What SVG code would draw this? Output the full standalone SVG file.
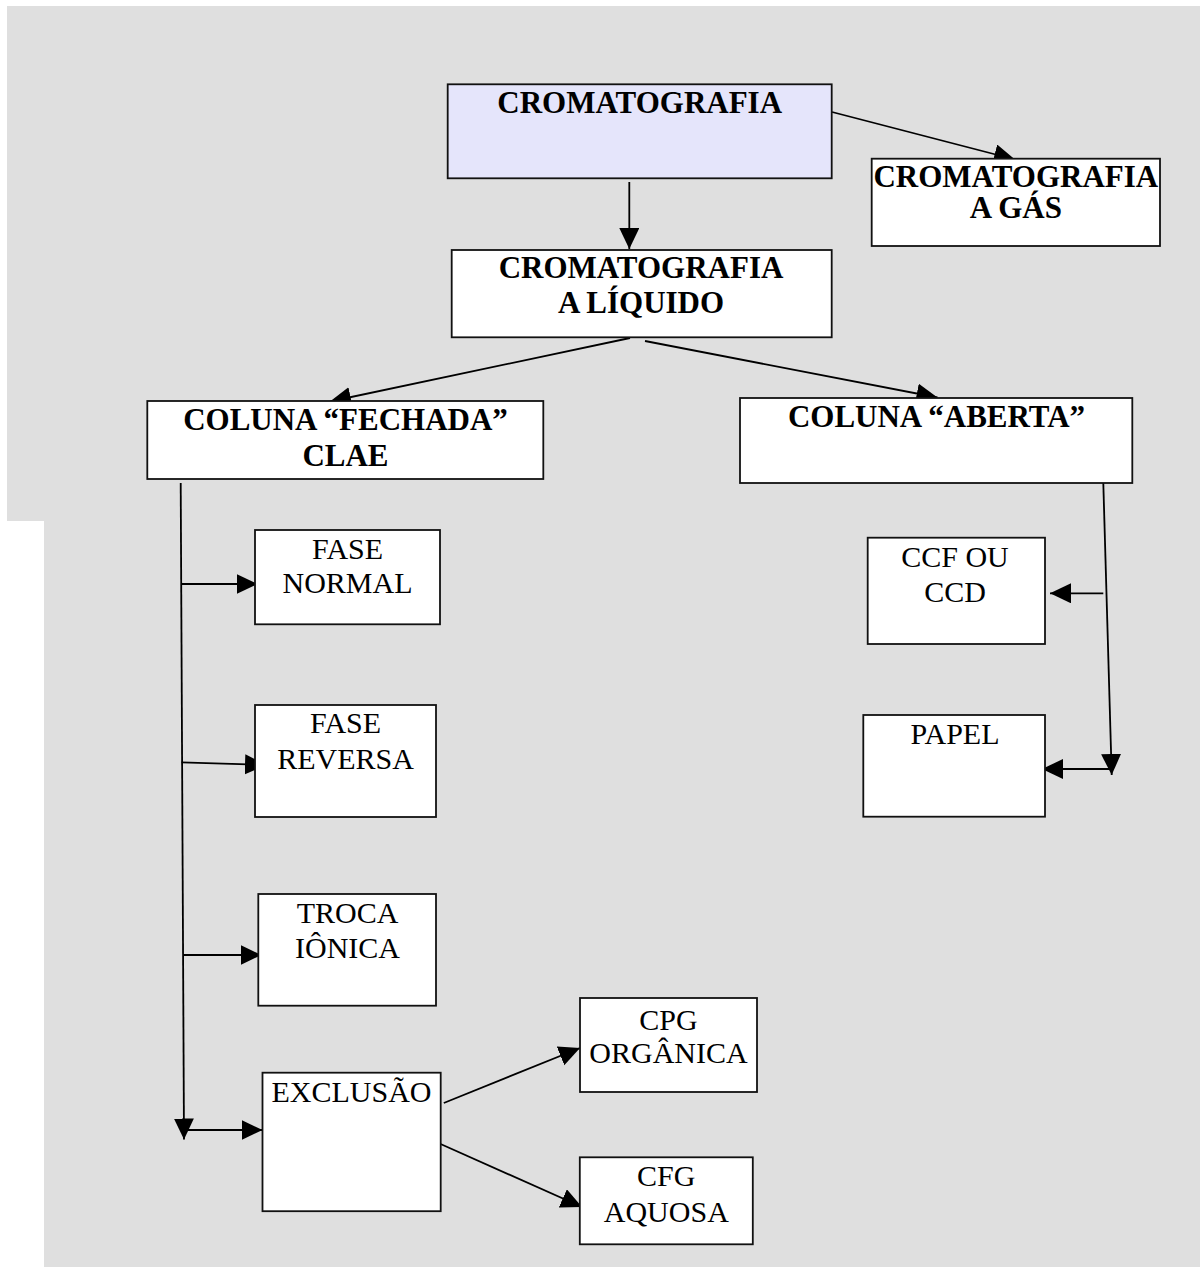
<svg xmlns="http://www.w3.org/2000/svg" width="1200" height="1267" viewBox="0 0 1200 1267">
<defs>
<style>
.box{fill:#ffffff;stroke:#111111;stroke-width:1.8}
.root{fill:#e5e5fb;stroke:#111111;stroke-width:1.8}
.b{font-family:"Liberation Serif","Times New Roman",serif;font-weight:bold;font-size:31px;fill:#000;text-anchor:middle}
.r{font-family:"Liberation Serif","Times New Roman",serif;font-size:30px;fill:#000;text-anchor:middle}
.c{fill:none;stroke:#000;stroke-width:1.8;marker-end:url(#ah)}
</style>
<marker id="ah" markerUnits="userSpaceOnUse" markerWidth="22" markerHeight="21" refX="21" refY="10" orient="auto">
<path d="M0,0 L21,10 L0,20 z" fill="#000"/>
</marker>
</defs>
<rect x="0" y="0" width="1200" height="1267" fill="#ffffff"/>
<polygon points="7,6 1200,6 1200,1267 44,1267 44,521 7,521" fill="#dfdfdf"/>

<g id="connectors">
<line class="c" x1="629.3" y1="182" x2="629.3" y2="249"/>
<line class="c" x1="832" y1="112" x2="1015" y2="159.5"/>
<line class="c" x1="630" y1="338" x2="330" y2="401.5"/>
<line class="c" x1="645" y1="341" x2="937.5" y2="397.5"/>
<line class="c" x1="180.7" y1="483" x2="184" y2="1139.5"/>
<line class="c" x1="181.5" y1="584" x2="257.5" y2="584"/>
<line class="c" x1="181.5" y1="762.3" x2="266" y2="765"/>
<line class="c" x1="183" y1="955" x2="261.5" y2="955"/>
<line class="c" x1="184" y1="1130" x2="262.5" y2="1130"/>
<line class="c" x1="443.8" y1="1103" x2="580" y2="1048"/>
<line class="c" x1="440.6" y1="1144" x2="582" y2="1207"/>
<line class="c" x1="1103.3" y1="483" x2="1111.7" y2="775"/>
<line class="c" x1="1103.3" y1="593.3" x2="1050" y2="593.3"/>
<line class="c" x1="1110" y1="769" x2="1042" y2="769"/>
</g>

<g id="n-cromatografia">
<rect class="root" x="447.7" y="84.3" width="384" height="94"/>
<text class="b" x="639.7" y="113.3">CROMATOGRAFIA</text>
</g>
<g id="n-gas">
<rect class="box" x="871.7" y="158.7" width="288.3" height="87.3"/>
<text class="b" x="1015.8" y="186.7">CROMATOGRAFIA</text>
<text class="b" x="1015.8" y="218.3">A GÁS</text>
</g>
<g id="n-liquido">
<rect class="box" x="451.7" y="250" width="380" height="87.3"/>
<text class="b" x="641" y="278">CROMATOGRAFIA</text>
<text class="b" x="641" y="313">A LÍQUIDO</text>
</g>
<g id="n-fechada">
<rect class="box" x="147.3" y="401" width="396" height="78"/>
<text class="b" x="345.5" y="430">COLUNA “FECHADA”</text>
<text class="b" x="345.5" y="466">CLAE</text>
</g>
<g id="n-aberta">
<rect class="box" x="740" y="398" width="392.3" height="85"/>
<text class="b" x="936.5" y="427.3">COLUNA “ABERTA”</text>
</g>
<g id="n-fase-normal">
<rect class="box" x="255" y="530" width="185" height="94.3"/>
<text class="r" x="347.5" y="559.3">FASE</text>
<text class="r" x="347.5" y="593.3">NORMAL</text>
</g>
<g id="n-fase-reversa">
<rect class="box" x="255" y="705" width="181" height="112"/>
<text class="r" x="345.5" y="733.3">FASE</text>
<text class="r" x="345.5" y="769.3">REVERSA</text>
</g>
<g id="n-troca">
<rect class="box" x="258.3" y="894" width="177.7" height="111.7"/>
<text class="r" x="347.5" y="923.3">TROCA</text>
<text class="r" x="347.5" y="958.3">IÔNICA</text>
</g>
<g id="n-exclusao">
<rect class="box" x="262.5" y="1072.7" width="178.2" height="138.5"/>
<text class="r" x="351.5" y="1101.7">EXCLUSÃO</text>
</g>
<g id="n-cpg">
<rect class="box" x="580" y="998" width="177" height="94"/>
<text class="r" x="668.5" y="1030">CPG</text>
<text class="r" x="668.5" y="1063">ORGÂNICA</text>
</g>
<g id="n-cfg">
<rect class="box" x="579.8" y="1157.3" width="173" height="87"/>
<text class="r" x="666.3" y="1186">CFG</text>
<text class="r" x="666.3" y="1221.7">AQUOSA</text>
</g>
<g id="n-ccf">
<rect class="box" x="867.7" y="537.7" width="177.3" height="106.3"/>
<text class="r" x="955" y="567.3">CCF OU</text>
<text class="r" x="955" y="601.7">CCD</text>
</g>
<g id="n-papel">
<rect class="box" x="863.3" y="715" width="181.7" height="101.7"/>
<text class="r" x="955" y="744">PAPEL</text>
</g>
</svg>
